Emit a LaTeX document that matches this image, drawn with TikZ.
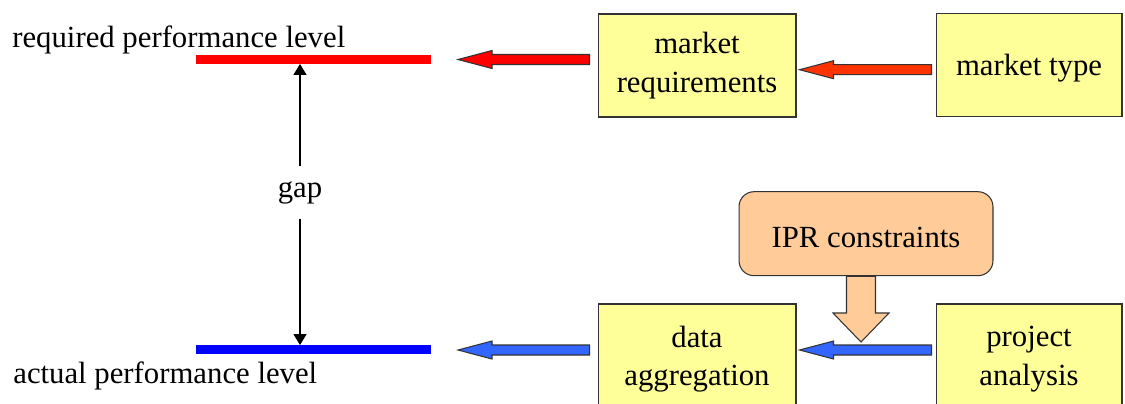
\documentclass[tikz,border=0pt]{standalone}
\usepackage{fontspec}
\setmainfont{Liberation Serif}
\usetikzlibrary{calc,arrows.meta}

\definecolor{boxyellow}{HTML}{FFFF99}
\definecolor{iprpeach}{HTML}{FFCC99}
\definecolor{arrowblue}{HTML}{3366FF}
\definecolor{arroworange}{HTML}{FF3300}

% block arrow pointing left: colour, tail, tip
\newcommand{\fatarrow}[3]{%
    \draw[blockline, fill=#1] let \p1=(#2), \p2=(#3) in
        (\x1,{\y1+0.1cm}) -- ({\x2+0.68cm},{\y1+0.1cm}) -- ({\x2+0.68cm},{\y1+0.18cm})
        -- (\x2,\y1) -- ({\x2+0.68cm},{\y1-0.18cm}) -- ({\x2+0.68cm},{\y1-0.1cm})
        -- (\x1,{\y1-0.1cm}) -- cycle;
}

\begin{document}
\begin{tikzpicture}[x=0.02cm, y=-0.02cm,
    every node/.style={font=\fontsize{17.5}{22}\selectfont},
    box/.style={draw=black!80, line width=0.6pt, fill=boxyellow, align=center,
        minimum height=2.06cm, inner sep=0pt, execute at begin node={\rule{0pt}{16.3pt}}},
    blockline/.style={draw=black!80, line width=0.6pt},
    level/.style={line width=5.1pt}]
    \useasboundingbox (0,0) rectangle (1125,403);

    % performance levels
    \coordinate (reqL) at (196,59.5);
    \coordinate (reqR) at (431,59.5);
    \coordinate (actL) at (196,349.5);
    \coordinate (actR) at (431,349.5);
    \draw[level, red] (reqL) -- (reqR);
    \draw[level, blue] (actL) -- (actR);
    \node[anchor=base west, inner sep=0pt] (reqtext) at (12,47) {required performance level};
    \node[anchor=base west, inner sep=0pt] (acttext) at (13,383) {actual performance level};

    % gap between the levels
    \coordinate (gaptop) at (300,64);
    \coordinate (gapbot) at (300,345);
    \node[anchor=base, inner xsep=0pt, inner ysep=8.5pt] (gap) at (300,197) {gap};
    \draw[line width=0.6pt, -{Triangle[length=6.2pt,width=7.4pt]}] (gap.north) -- (gaptop);
    \draw[line width=0.6pt, -{Triangle[length=6.2pt,width=7.4pt]}] (gap.south) -- (gapbot);

    % boxes
    \node[box, minimum width=3.96cm] (mreq) at (697,65.5) {market\\requirements};
    \node[box, minimum width=3.72cm] (mtype) at (1029,64.7) {market type};
    \node[box, minimum width=3.96cm, minimum height=2.2cm] (dagg) at (697,359) {data\\aggregation};
    \node[box, minimum width=3.72cm, minimum height=2.2cm] (proj) at (1029,359) {project\\analysis};
    \node[box, fill=iprpeach, rounded corners=0.3cm, minimum width=5.08cm,
        minimum height=1.68cm] (ipr) at (866,233.7) {IPR constraints};

    % arrows
    \coordinate (tail1) at ($(mreq.west |- reqR)+(-8,0)$);
    \coordinate (tip1) at ($(reqR)+(27,0)$);
    \coordinate (tail2) at ($(mtype.west)+(-4,5)$);
    \coordinate (tip2) at ($(mreq.east |- mtype.west)+(3,5)$);
    \coordinate (tail3) at ($(dagg.west |- actR)+(-8,0.5)$);
    \coordinate (tip3) at ($(actR)+(27,0.5)$);
    \coordinate (tail4) at ($(proj.west |- actR)+(-4,0.5)$);
    \coordinate (tip4) at ($(dagg.east |- actR)+(3,0.5)$);
    \fatarrow{red}{tail1}{tip1}
    \fatarrow{arroworange}{tail2}{tip2}
    \fatarrow{arrowblue}{tail3}{tip3}
    \fatarrow{arrowblue}{tail4}{tip4}

    % IPR constraints act on the lower arrow
    \coordinate (iprtip) at (861,342);
    \draw[blockline, fill=iprpeach] let \p1=(iprtip |- ipr.south), \p2=(iprtip) in
        ({\x1-0.29cm},\y1) -- ({\x1-0.29cm},{\y2+0.58cm}) -- ({\x1-0.56cm},{\y2+0.58cm})
        -- (\x2,\y2) -- ({\x1+0.56cm},{\y2+0.58cm}) -- ({\x1+0.29cm},{\y2+0.58cm})
        -- ({\x1+0.29cm},\y1) -- cycle;
\end{tikzpicture}
\end{document}
